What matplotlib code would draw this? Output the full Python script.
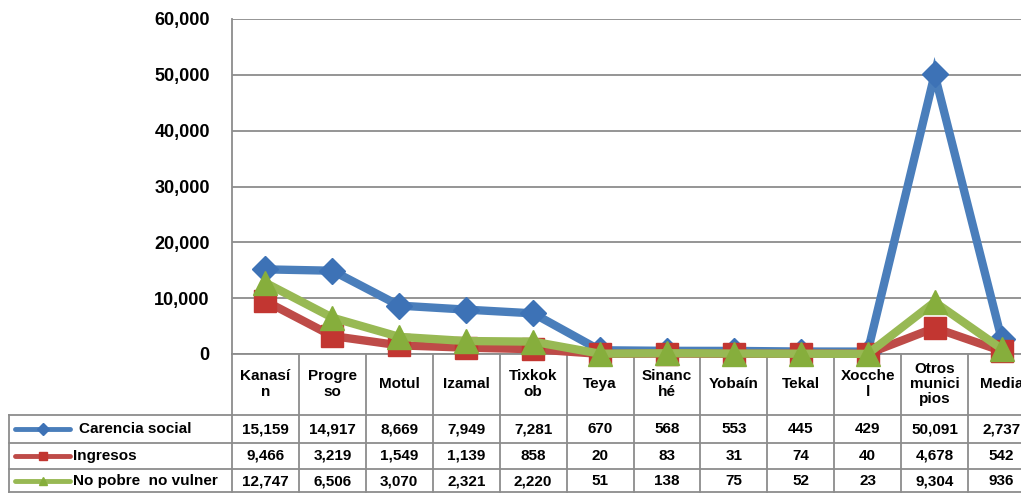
import matplotlib
matplotlib.use("Agg")
import matplotlib.pyplot as plt
import matplotlib.transforms as mtransforms
from matplotlib.lines import Line2D
import numpy as np

plt.rcParams['font.family'] = ['Liberation Sans', 'DejaVu Sans']
plt.rcParams['font.weight'] = 'bold'

# data
municipios = ["Kanasí\nn", "Progre\nso", "Motul", "Izamal", "Tixkok\nob", "Teya",
              "Sinanc\nhé", "Yobaín", "Tekal", "Xocche\nl", "Otros\nmunici\npios", "Media"]
carencia_social = [15159, 14917, 8669, 7949, 7281, 670, 568, 553, 445, 429, 50091, 2737]
ingresos = [9466, 3219, 1549, 1139, 858, 20, 83, 31, 74, 40, 4678, 542]
no_pobre = [12747, 6506, 3070, 2321, 2220, 51, 138, 75, 52, 23, 9304, 936]

series_names = ["Carencia social", "Ingresos", "No pobre  no vulner"]
series_vals = [carencia_social, ingresos, no_pobre]
line_colors = ["#4A7EBB", "#BE4B48", "#98B954"]
mark_colors = ["#3D72B6", "#C23631", "#86AE3C"]
markers = ["D", "s", "^"]
msizes = [13, 16, 17]

W, H = 1021, 493
fig = plt.figure(figsize=(W / 100, H / 100), dpi=100)

# main plot axes (extends past the right edge like the original)
x0, x1 = 232, 1035
ytop, ybot = 19, 354
ax = fig.add_axes([x0 / W, (H - ybot) / H, (x1 - x0) / W, (ybot - ytop) / H])
x = np.arange(len(municipios))
for vals, lc, mc, mk, ms in zip(series_vals, line_colors, mark_colors, markers, msizes):
    ax.plot(x, vals, color=lc, lw=6, marker=mk, ms=ms, mfc=mc, mec=mc,
            solid_joinstyle='miter', clip_on=False, zorder=3)

ax.set_xlim(-0.5, len(municipios) - 0.5)
ax.set_ylim(0, 60000)
ax.set_yticks(np.arange(0, 60001, 10000))
ax.yaxis.set_major_formatter(matplotlib.ticker.FuncFormatter(lambda v, p: f"{int(v):,}"))
ax.tick_params(axis='y', length=0, pad=16, labelsize=13)
ax.set_xticks([])
ax.grid(axis='y', color='#8C8C8C', lw=1.3)
ax.set_axisbelow(True)
for s in ['top', 'right']:
    ax.spines[s].set_visible(False)
ax.spines['left'].set_color('#8C8C8C')
ax.spines['left'].set_linewidth(1.3)
ax.spines['bottom'].set_color('#8C8C8C')
ax.spines['bottom'].set_linewidth(1.3)
for lab in ax.get_yticklabels():
    lab.set_fontweight('bold')

# overlay in pixel coords for the data table
ov = fig.add_axes([0, 0, 1, 1], zorder=-1)
ov.set_xlim(0, W)
ov.set_ylim(H, 0)
ov.axis('off')
tr = mtransforms.blended_transform_factory(ax.transData, ov.transData)

grid_c = '#8C8C8C'
row_lines = [415, 443, 469, 492]
row_centers = [429, 456, 481]
# horizontal rules
for yl in row_lines:
    ov.plot([9, W], [yl, yl], color=grid_c, lw=1.3)
# vertical rules
ov.plot([9, 9], [415, 492], color=grid_c, lw=1.3)
for k in range(len(municipios) + 1):
    ov.plot([k - 0.5, k - 0.5], [354, 492], color=grid_c, lw=1.3, transform=tr)

# header
for i, name in enumerate(municipios):
    ov.text(i, 384, name, transform=tr, ha='center', va='center', fontsize=11,
            fontweight='bold', linespacing=1.1)

# rows
for r, (name, vals, lc, mc, mk) in enumerate(zip(series_names, series_vals,
                                                  line_colors, mark_colors, markers)):
    yc = row_centers[r]
    ov.add_line(Line2D([15, 70], [yc, yc], color=lc, lw=3.5, solid_capstyle='round'))
    ov.add_line(Line2D([43], [yc], marker=mk, ms=6, color=mc, ls='none'))
    ov.text(79 if r == 0 else 73, yc, name, ha='left', va='center', fontsize=11,
            fontweight='bold')
    for i, v in enumerate(vals):
        ov.text(i, yc, f"{v:,}", transform=tr, ha='center', va='center',
                fontsize=11, fontweight='bold')

fig.savefig("out.png", dpi=100)
